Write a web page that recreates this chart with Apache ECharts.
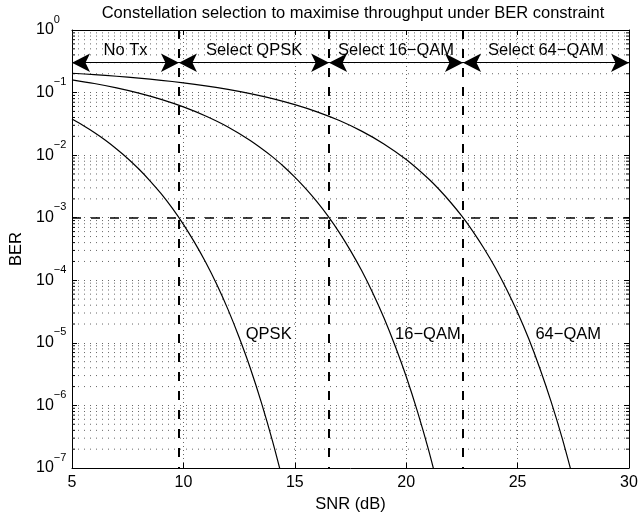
<!DOCTYPE html>
<html><head><meta charset="utf-8">
<script src="https://cdn.jsdelivr.net/npm/echarts@6/dist/echarts.min.js"></script>
<style>html,body{margin:0;padding:0;background:#fff}#c{width:641px;height:519px}</style>
</head><body><div id="c"></div>
<script>
const FONT = '"Liberation Sans", Arial, Helvetica, sans-serif';
const titleText = 'Constellation selection to maximise throughput under BER constraint';
const xName = 'SNR (dB)';
const yName = 'BER';

// QPSK
const snrQpsk = [5,5.5,6,6.5,7,7.5,8,8.5,9,9.5,10,10.5,11,11.5,12,12.5,13,13.5,14,14.5];
const berQpsk = [3.77e-2,2.97e-2,2.30e-2,1.73e-2,1.255e-2,8.86e-3,6.0e-3,3.89e-3,2.42e-3,1.42e-3,7.83e-4,4.03e-4,1.94e-4,8.56e-5,3.43e-5,1.23e-5,3.97e-6,1.11e-6,2.69e-7,5.6e-8];
// 16-QAM
const snr16 = [5,6,7,8,9,10,11,12,13,14,14.5,15,15.5,16,16.5,17,17.5,18,18.5,19,19.5,20,20.5,21,21.5];
const ber16 = [0.160,0.1396,0.1189,0.0980,0.0778,0.0590,0.0422,0.0282,0.0171,9.39e-3,6.59e-3,4.46e-3,2.89e-3,1.79e-3,1.05e-3,5.79e-4,2.98e-4,1.43e-4,6.29e-5,2.52e-5,9.0e-6,2.90e-6,8.1e-7,1.96e-7,4.0e-8];
// 64-QAM
const snr64 = [5,6,7,8,9,10,11,12,13,14,15,16,17,18,19,20,21,21.5,22,22.5,23,23.5,24,24.5,25,25.5,26,26.5,27,27.5];
const ber64 = [0.2036,0.1935,0.1824,0.1702,0.1571,0.1430,0.1280,0.1124,0.0962,0.0800,0.0641,0.0492,0.0357,0.0242,0.0151,8.49e-3,4.19e-3,2.77e-3,1.75e-3,1.056e-3,6.0e-4,3.19e-4,1.59e-4,7.27e-5,3.05e-5,1.16e-5,3.9e-6,1.16e-6,3.0e-7,6.6e-8];

// thresholds (SNR where BER = 1e-3) and region annotations
const berTarget = 1e-3;
const thresholds = [9.8, 16.54, 22.55];
const regionBounds = [5, 9.8, 16.54, 22.55, 30];
const regionLabels = ['No Tx', 'Select QPSK', 'Select 16\u2212QAM', 'Select 64\u2212QAM'];
const arrowBer = 0.3;

// curve labels
const curveLabels = ['QPSK', '16\u2212QAM', '64\u2212QAM'];
const curveLabelX = [12.8, 19.5, 25.8];
const curveLabelY = [1.37e-5, 1.37e-5, 1.37e-5];

// axes
const xTicks = [5, 10, 15, 20, 25, 30];
const yMin = 1e-7, yMax = 1;
const minorMultipliers = [2,3,4,5,6,7,8,9];
const minorDecades = [-7,-6,-5,-4,-3,-2,-1];
const minorY = [];
minorDecades.forEach(d => minorMultipliers.forEach(m => minorY.push(m * Math.pow(10, d))));

const GRID_COLOR = '#666';
const DOT = [1, 5];

const chart = echarts.init(document.getElementById('c'), null, {renderer: 'canvas'});
chart.setOption({
  animation: false,
  backgroundColor: '#fff',
  title: {
    text: titleText, left: 348, top: 0, textAlign: 'center',
    textStyle: {fontFamily: FONT, fontSize: 16.5, fontWeight: 'normal', color: '#000'}
  },
  grid: {left: 72, right: 12, top: 30, bottom: 51},
  xAxis: [{
    type: 'value', min: xTicks[0], max: xTicks[xTicks.length-1], interval: 5,
    name: xName, nameLocation: 'middle', nameGap: 26,
    nameTextStyle: {fontFamily: FONT, fontSize: 16.5, color: '#000'},
    axisLine: {show: true, lineStyle: {color: '#000', width: 1}},
    axisTick: {show: true, inside: true, length: 5, lineStyle: {color: '#000'}},
    axisLabel: {fontFamily: FONT, fontSize: 16, color: '#000', margin: 7},
    splitLine: {show: true, lineStyle: {color: GRID_COLOR, type: [1, 3], width: 1}}
  }, {
    type: 'value', position: 'top', min: xTicks[0], max: xTicks[xTicks.length-1], interval: 5,
    axisLine: {show: true, lineStyle: {color: '#000', width: 1}},
    axisTick: {show: true, inside: true, length: 5, lineStyle: {color: '#000'}},
    axisLabel: {show: false}, splitLine: {show: false}
  }],
  yAxis: [{
    type: 'log', logBase: 10, min: yMin, max: yMax, interval: 1,
    name: yName, nameLocation: 'middle', nameGap: 46,
    nameTextStyle: {fontFamily: FONT, fontSize: 16.5, color: '#000'},
    axisLine: {show: true, lineStyle: {color: '#000', width: 1}},
    axisTick: {show: true, inside: true, length: 5, lineStyle: {color: '#000'}},
    axisLabel: {
      align: 'left', margin: 36,
      formatter: v => {
        const e = Math.round(Math.log10(v));
        return '{b|10}{s|' + (e === 0 ? '0' : '\u2212' + (-e)) + '}';
      },
      rich: {
        b: {fontFamily: FONT, fontSize: 16, color: '#000', lineHeight: 32},
        s: {fontFamily: FONT, fontSize: 11, color: '#000', lineHeight: 12, verticalAlign: 'top'}
      }
    },
    splitLine: {show: true, lineStyle: {color: GRID_COLOR, type: DOT, width: 1}}
  }, {
    type: 'log', logBase: 10, min: yMin, max: yMax, interval: 1, position: 'right',
    axisLine: {show: true, lineStyle: {color: '#000', width: 1}},
    axisTick: {show: true, inside: true, length: 5, lineStyle: {color: '#000'}},
    axisLabel: {show: false}, splitLine: {show: false}
  }],
  series: [
    {
      type: 'custom', coordinateSystem: 'cartesian2d', silent: true, z: 1, clip: false,
      data: minorY.map(v => [5, v]),
      renderItem: (params, api) => {
        const v = api.value(1);
        const a = api.coord([xTicks[0], v]);
        const b = api.coord([xTicks[xTicks.length-1], v]);
        return {type: 'group', children: [
          {type: 'line', shape: {x1: a[0], y1: a[1], x2: b[0], y2: b[1]}, style: {stroke: GRID_COLOR, lineWidth: 1, lineDash: DOT}},
          {type: 'line', shape: {x1: a[0], y1: a[1], x2: a[0] + 3, y2: a[1]}, style: {stroke: '#000', lineWidth: 1}},
          {type: 'line', shape: {x1: b[0] - 3, y1: b[1], x2: b[0], y2: b[1]}, style: {stroke: '#000', lineWidth: 1}}
        ]};
      }
    },
    {
      name: 'QPSK', type: 'line', showSymbol: false, smooth: 0.3, clip: true, z: 3,
      data: snrQpsk.map((x, i) => [x, berQpsk[i]]),
      lineStyle: {color: '#000', width: 1.2},
      markLine: {
        silent: true, symbol: 'none', label: {show: false}, z: 4,
        lineStyle: {color: '#000', width: 2, type: [9, 10]},
        data: thresholds.map(t => [{coord: [t, yMax]}, {coord: [t, yMin]}]).concat([
          [{coord: [xTicks[0], berTarget], lineStyle: {color: '#000', width: 1.5, type: [9, 10]}},
           {coord: [xTicks[xTicks.length-1], berTarget]}]
        ])
      }
    },
    {
      name: '16-QAM', type: 'line', showSymbol: false, smooth: 0.3, clip: true, z: 3,
      data: snr16.map((x, i) => [x, ber16[i]]),
      lineStyle: {color: '#000', width: 1.2},
      markLine: {
        silent: true, symbol: ['arrow', 'arrow'], symbolSize: [14, 18], z: 5,
        lineStyle: {color: '#000', width: 1, type: 'solid'},
        itemStyle: {color: '#000'},
        label: {show: true, position: 'middle', formatter: '{b}', color: '#000', fontFamily: FONT, fontSize: 16.5, distance: 4},
        data: regionLabels.map((n, i) => [
          {name: n, coord: [regionBounds[i], arrowBer]},
          {coord: [regionBounds[i+1], arrowBer]}
        ])
      }
    },
    {
      name: '64-QAM', type: 'line', showSymbol: false, smooth: 0.3, clip: true, z: 3,
      data: snr64.map((x, i) => [x, ber64[i]]),
      lineStyle: {color: '#000', width: 1.2}
    },
    {
      type: 'scatter', symbolSize: 0, silent: true, z: 6,
      itemStyle: {color: '#000', opacity: 1},
      emphasis: {disabled: true},
      data: curveLabels.map((n, i) => ({name: n, value: [curveLabelX[i], curveLabelY[i]]})),
      label: {show: true, position: 'right', distance: 0, formatter: '{b}', color: '#000', opacity: 1, fontFamily: FONT, fontSize: 16.5}
    }
  ]
});
</script>
</body></html>
